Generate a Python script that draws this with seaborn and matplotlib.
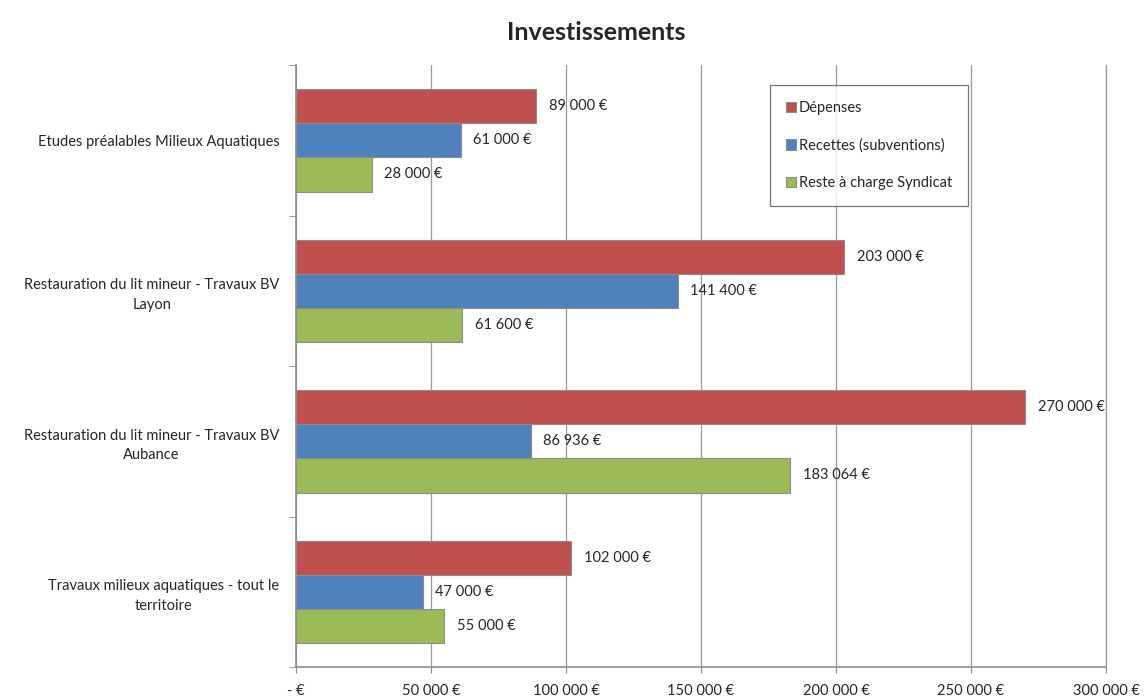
import matplotlib
matplotlib.use("Agg")
import matplotlib.pyplot as plt
import seaborn as sns
import pandas as pd
import numpy as np

# data
categories = [
    "Etudes préalables Milieux Aquatiques",
    "Restauration du lit mineur - Travaux BV\nLayon",
    "Restauration du lit mineur - Travaux BV\nAubance",
    "Travaux milieux aquatiques - tout le\nterritoire",
]
depenses = [89000, 203000, 270000, 102000]
recettes = [61000, 141400, 86936, 47000]
reste = [28000, 61600, 183064, 55000]
series = ["Dépenses", "Recettes (subventions)", "Reste à charge Syndicat"]
colors = ["#C0504D", "#4F81BD", "#9BBB59"]
xticks = [0, 50000, 100000, 150000, 200000, 250000, 300000]


def euro(v):
    if v == 0:
        return "- €"
    return f"{v:,.0f} €".replace(",", " ")


df = pd.DataFrame({
    "cat": categories * 3,
    "serie": np.repeat(series, len(categories)),
    "val": depenses + recettes + reste,
})

sns.set_style("white")
plt.rcParams["font.family"] = ["Lato", "DejaVu Sans"]

fig = plt.figure(figsize=(11.45, 7), dpi=100)
ax = fig.add_axes([0.2585, 0.047, 0.7075, 0.86])

sns.barplot(data=df, y="cat", x="val", hue="serie", order=categories,
            hue_order=series, palette=colors, orient="h", width=0.68,
            edgecolor="#8c8c8c", linewidth=0.8, saturation=1, ax=ax,
            zorder=3)

for cont in ax.containers:
    ax.bar_label(cont, labels=[euro(v) for v in cont.datavalues],
                 padding=9, fontsize=10.5)

ax.set_xlim(0, 300000)
ax.set_ylim(len(categories) - 0.5, -0.5)
ax.set_xticks(xticks)
ax.set_xticklabels([euro(v) for v in xticks], fontsize=10.5)
ax.tick_params(axis="x", length=4, color="#8c8c8c", pad=8, direction="out",
               bottom=True)
ax.grid(axis="x", color="#999999", linewidth=0.9, zorder=0)

ax.set_yticks(range(len(categories)))
ax.set_yticklabels(categories, fontsize=10.5, multialignment="center",
                   linespacing=1.5)
ax.tick_params(axis="y", length=0, pad=12)
ax.set_yticks(np.arange(-0.5, len(categories), 1), minor=True)
ax.tick_params(axis="y", which="minor", length=5, color="#8c8c8c",
               direction="out", left=True)

ax.set_xlabel("")
ax.set_ylabel("")
ax.spines["top"].set_visible(False)
ax.spines["right"].set_color("#999999")
ax.spines["right"].set_linewidth(0.9)
for s in ["left", "bottom"]:
    ax.spines[s].set_color("#8c8c8c")
    ax.spines[s].set_linewidth(1.2)

leg = ax.legend(loc="upper right", bbox_to_anchor=(0.83, 0.967),
                fontsize=10.5, frameon=True, fancybox=False,
                edgecolor="#555555", labelspacing=1.6, handlelength=0.7,
                handleheight=0.7, handletextpad=0.2, borderpad=1.1,
                borderaxespad=0)
leg.get_frame().set_linewidth(0.9)

fig.text(0.521, 0.953, "Investissements", ha="center", va="center",
         fontsize=18, fontweight="bold")

fig.savefig("out.png", dpi=100)
